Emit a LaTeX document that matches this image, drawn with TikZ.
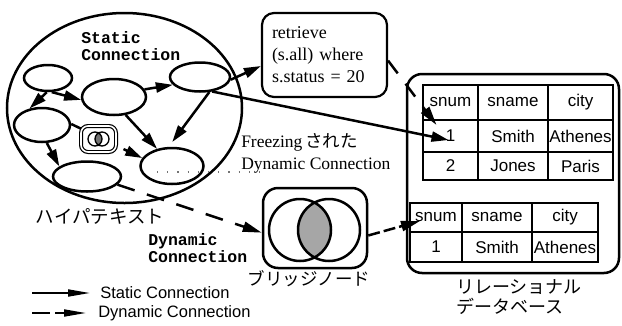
\documentclass[tikz,border=0pt]{standalone}
\usepackage{fontspec}
\setmainfont{Liberation Serif}
\newfontfamily\sansf{Liberation Sans}
\newfontfamily\monof{Liberation Mono}
\newfontfamily\jpf{Noto Sans CJK JP}
\usetikzlibrary{shapes.geometric,arrows.meta}
\begin{document}
\begin{tikzpicture}[x=1pt,y=-1pt,line width=2.5pt,
  ell/.style={ellipse,draw,inner sep=0pt},
  sarrow/.style={-{Triangle[length=17pt,width=10pt]}},
  darrow/.style={-{Triangle[length=19pt,width=10pt]},dash pattern=on 16pt off 13pt},
  cell/.style={draw,rectangle,inner sep=0pt,font=\sansf\fontsize{17}{19}\selectfont},
  jlab/.style={inner sep=0pt,font=\jpf\fontsize{18}{21}\selectfont},
  monolab/.style={inner sep=0pt,align=left,font=\monof\bfseries\fontsize{16.5}{17}\selectfont},
  leg/.style={inner sep=0pt,anchor=west,font=\sansf\fontsize{16.5}{18}\selectfont}]
\useasboundingbox (0,0) rectangle (622,325);

% hypertext
\node[ell,minimum width=235pt,minimum height=190pt] (hyper) at (124.5,108) {};
\node[monolab,anchor=west] (slab) at (80,46.5) {Static\\Connection};
\node[ell,minimum width=48pt,minimum height=26pt] (e1) at (48,78) {};
\node[ell,minimum width=64pt,minimum height=36pt] (e2) at (114,97) {};
\node[ell,minimum width=60pt,minimum height=29pt] (e3) at (200,77) {};
\node[ell,minimum width=56pt,minimum height=34pt] (e4) at (42,125) {};
\node[ell,minimum width=63pt,minimum height=36pt] (e5) at (172,166) {};
\node[ell,minimum width=68pt,minimum height=30pt] (e6) at (87,176.5) {};

\draw[sarrow] (e1.-95) -- (e4.127);
\draw[sarrow] (e1.-75) -- (e2.185);
\draw[sarrow] (e2.14) -- (e3.196);
\draw[sarrow,shorten >=6pt] (e3.-58) -- (e5.100);
\draw[sarrow] (e2.-57) -- (e5.131);
\draw[sarrow] (e4.-75) -- (e6.160);
\draw[darrow,-{Triangle[length=17pt,width=10pt]}] (e4.2) -- (e5.165);

% small bridge icon
\node[draw,double,double distance=1.6pt,line width=1.2pt,rounded corners=7pt,
      minimum width=35pt,minimum height=26pt,fill=white] (icon) at (98.5,139) {};
\begin{scope}
  \clip (95,139) circle (7pt);
  \fill[black!55] (102,139) circle (7pt);
\end{scope}
\draw[line width=1.3pt] (95,139) circle (7pt) (102,139) circle (7pt);

% dotted trace
\draw[line width=1.2pt,black!55,dash pattern=on 1.2pt off 9pt] (157,172) -- (262,172);

% retrieve box
\node[draw,line width=2.2pt,rounded corners=12pt,text width=105pt,inner xsep=10pt,
      minimum height=84pt,align=left,font=\fontsize{18}{22}\selectfont] (retr) at (324.5,55)
      {retrieve\\(s.all) where\\s.status = 20};

% relational database
\node[draw,rounded corners=15pt,minimum width=212pt,minimum height=199pt] (db) at (513,173.5) {};
\node[cell,minimum width=55pt,minimum height=35pt] (t1a) at (450.5,102.5) {snum};
\node[cell,minimum width=70pt,minimum height=35pt] (t1b) at (513,102.5) {sname};
\node[cell,minimum width=65pt,minimum height=35pt] (t1c) at (580.5,102.5) {city};
\node[cell,minimum width=55pt,minimum height=32pt] (t1d) at (450.5,136) {1};
\node[cell,minimum width=70pt,minimum height=32pt] (t1e) at (513,136) {Smith};
\node[cell,minimum width=65pt,minimum height=32pt] (t1f) at (580.5,136) {Athenes};
\node[cell,minimum width=55pt,minimum height=28pt] (t1g) at (450.5,166) {2};
\node[cell,minimum width=70pt,minimum height=28pt] (t1h) at (513,166) {Jones};
\node[cell,minimum width=65pt,minimum height=28pt] (t1i) at (580.5,166) {Paris};

\node[cell,minimum width=52pt,minimum height=29pt] (t2a) at (436,217.5) {snum};
\node[cell,minimum width=70pt,minimum height=29pt] (t2b) at (497,217.5) {sname};
\node[cell,minimum width=66pt,minimum height=29pt] (t2c) at (565,217.5) {city};
\node[cell,minimum width=52pt,minimum height=30pt] (t2d) at (436,247) {1};
\node[cell,minimum width=70pt,minimum height=30pt] (t2e) at (497,247) {Smith};
\node[cell,minimum width=66pt,minimum height=30pt] (t2f) at (565,247) {Athenes};

% bridge node
\node[draw,rounded corners=15pt,minimum width=104pt,minimum height=80pt] (bridge) at (315,228) {};
\begin{scope}
  \clip (300,230) circle (31pt);
  \fill[black!35] (329,230) circle (31pt);
\end{scope}
\draw (300,230) circle (31pt) (329,230) circle (31pt);

% connections
\draw[sarrow] (e3.-5) -- ([yshift=-11pt]retr.west);
\draw[sarrow] (e3.-50) -- ([shift={(-2pt,-4pt)}]t1d.center);
\draw[darrow] (retr.-5) -- ([shift={(-14pt,11pt)}]t1d.center);
\draw[darrow,dash pattern=on 18pt off 13pt] (e6.-15) -- (bridge.185);
\draw[darrow,dash pattern=on 12pt off 4pt] (bridge.-8) -- ([shift={(-16pt,-3.5pt)}]t2a.center);

% labels
\node[inner sep=0pt,anchor=west,align=left,font=\fontsize{17.5}{22}\selectfont] (frz) at (240,153)
      {Freezing\hspace{3pt}{\jpf された}\\Dynamic Connection};
\node[jlab,font=\jpf\fontsize{18.5}{21}\selectfont] (hlab) at (100,216) {ハイパテキスト};
\node[monolab,anchor=west] (dlab) at (147,248) {Dynamic\\Connection};
\node[jlab,font=\jpf\fontsize{17.5}{21}\selectfont] (blab) at (309,279) {ブリッジノード};
\node[jlab,anchor=west,align=left,font=\jpf\fontsize{18}{20}\selectfont] (dblab) at (455,297) {リレーショナル\\データベース};

% legend
\coordinate (ls1) at (32,293);
\coordinate (ls2) at (90,293);
\coordinate (ld1) at (32,313);
\coordinate (ld2) at (86,313);
\draw[line width=1.8pt,-{Triangle[length=22pt,width=7pt]}] (ls1) -- (ls2);
\draw[line width=1.8pt,-{Triangle[length=22pt,width=7pt]},dash pattern=on 18pt off 5pt] (ld1) -- (ld2);
\node[leg] (lt1) at (99,293) {Static Connection};
\node[leg] (lt2) at (97,313) {Dynamic Connection};
\end{tikzpicture}
\end{document}
